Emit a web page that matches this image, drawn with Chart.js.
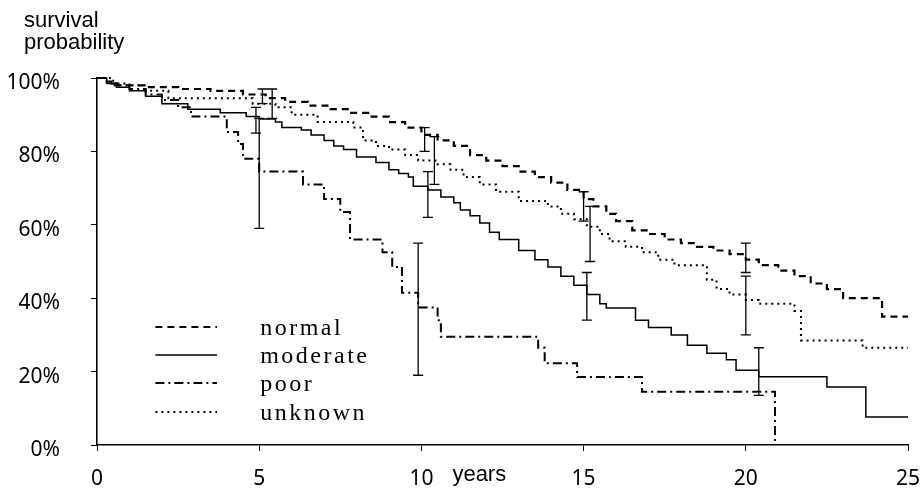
<!DOCTYPE html>
<html>
<head>
<meta charset="utf-8">
<script src="https://cdn.jsdelivr.net/npm/chart.js@4.4.1/dist/chart.umd.min.js"></script>
<style>
  html, body { margin: 0; padding: 0; background: #fff; }
  #wrap { width: 920px; height: 488px; position: relative; }
</style>
</head>
<body>
<div id="wrap"><canvas id="survivalChart"></canvas></div>
<script>
// Curvas de supervivencia (años, % tras cada escalón)
const normalYears = [0, 0.3, 0.6, 1.5, 2.5, 3.5, 4.5, 5.2, 5.8, 6.5, 7.2, 7.8, 8.4, 9, 9.5, 10, 10.5, 11, 11.5, 12, 12.5, 13, 13.5, 14, 14.5, 15, 15.3, 15.7, 16, 16.5, 17, 17.5, 18, 18.5, 19, 19.5, 20, 20.4, 21, 21.5, 22, 22.5, 23, 24.2, 25];
const normalSurv = [100, 99, 98, 97.5, 97, 96.5, 95.5, 94.5, 93.5, 92.5, 91.5, 90.5, 89.5, 88, 86.5, 84.5, 83, 81.5, 79, 77.5, 76, 74.5, 73, 71.5, 69.5, 67, 65, 63, 61, 58.5, 57.5, 56, 55, 54, 53, 52, 50.5, 49, 47.5, 46, 44, 42.5, 40, 35, 35];

const moderateYears = [0, 0.3, 0.6, 1, 1.5, 2, 2.8, 3.8, 4.6, 5, 5.5, 5.7, 6.3, 6.6, 7, 7.3, 7.6, 8, 8.6, 9, 9.3, 9.6, 9.75, 10.2, 10.6, 11, 11.2, 11.5, 11.8, 12.1, 12.4, 13, 13.5, 13.9, 14.3, 14.7, 15.1, 15.5, 15.7, 16.6, 17, 17.7, 18.2, 18.8, 19.4, 19.7, 20.4, 22.5, 23.7, 25];
const moderateSurv = [100, 98.5, 97.5, 96.5, 95, 93, 91.5, 90.5, 89.5, 88.8, 88, 86.5, 85.8, 84.5, 83, 81.5, 80.5, 78.5, 77, 75, 74, 73, 70.5, 69.5, 67.6, 66, 64, 62.5, 60.5, 58, 56, 53, 50.5, 48.5, 46, 43.5, 41, 38.5, 37.3, 34, 32, 30, 27.2, 25, 23.2, 20.4, 18.6, 15.8, 7.6, 7.6];

const poorYears = [0, 0.3, 1, 1.5, 2, 2.5, 2.9, 4, 4.35, 4.5, 5, 6.35, 7, 7.5, 7.8, 8.8, 9.1, 9.4, 9.9, 10.5, 10.6, 13.6, 13.8, 14.8, 16.8, 20.9];
const poorSurv = [100, 98.5, 97, 95.5, 94, 92, 89.5, 85.3, 82, 78, 74.5, 71, 67, 63.5, 56, 52.5, 48.5, 41.5, 37.5, 34, 29.5, 26.5, 22.3, 18.5, 14.5, 0];

const unknownYears = [0, 0.5, 1.5, 2.2, 4.8, 5.5, 6, 6.8, 7.9, 8.2, 8.6, 9, 9.5, 9.9, 10.5, 10.9, 11.3, 11.8, 12.3, 13, 13.9, 14.3, 14.7, 15.1, 15.5, 15.8, 16.3, 16.8, 17.3, 17.8, 18.8, 19.1, 19.5, 20, 20.4, 21.5, 21.7, 23.6, 25];
const unknownSurv = [100, 98, 96.5, 94.5, 93, 92, 90, 88, 86.5, 83, 81.5, 80.5, 79, 77.5, 76.5, 75, 73, 71, 69, 66.5, 65, 63, 61.5, 59.5, 57.5, 55.5, 54, 52.5, 50.5, 49, 45, 42.5, 41, 39.5, 38.5, 36.5, 28.5, 26.5, 26.5];

// Barras de error: [año, inferior, superior]
const normalBars = [[5.1, 93, 97], [10.1, 80, 86.5], [15.0, 61, 69], [20.0, 47, 55]];
const moderateBars = [[4.9, 85, 92], [10.2, 62, 74.5], [15.1, 34, 47], [20.4, 13.5, 26.5]];
const poorBars = [[5.0, 59, 89], [9.9, 19, 55]];
const unknownBars = [[5.4, 89, 97], [10.4, 71, 84], [15.2, 50, 65], [20.0, 30, 46]];

const yTicks = [0, 20, 40, 60, 80, 100];
const xTicks = [0, 5, 10, 15, 20, 25];

const seriesNames = ['normal', 'moderate', 'poor', 'unknown'];

function toPoints(xs, ys) {
    return xs.map((x, i) => ({ x: x, y: ys[i] }));
}

const tickFont = { family: '"Noto Sans", sans-serif', size: 21 };

// Dibuja barras de error, leyenda y rótulos
const extrasPlugin = {
    id: 'extras',
    afterDatasetsDraw(chart) {
        const ctx = chart.ctx;
        const xs = chart.scales.x;
        const ys = chart.scales.y;
        ctx.save();
        ctx.strokeStyle = '#000';
        ctx.lineWidth = 1.3;
        ctx.setLineDash([]);
        chart.data.datasets.forEach(ds => {
            (ds.errorBars || []).forEach(b => {
                const px = xs.getPixelForValue(b[0]);
                const lo = ys.getPixelForValue(b[1]);
                const hi = ys.getPixelForValue(b[2]);
                ctx.beginPath();
                ctx.moveTo(px, lo); ctx.lineTo(px, hi);
                ctx.moveTo(px - 5, lo); ctx.lineTo(px + 5, lo);
                ctx.moveTo(px - 5, hi); ctx.lineTo(px + 5, hi);
                ctx.stroke();
            });
        });
        ctx.restore();
    },
    afterDraw(chart) {
        const ctx = chart.ctx;
        const xs = chart.scales.x;
        ctx.save();
        // leyenda
        const lx0 = xs.getPixelForValue(1.8);
        const lx1 = xs.getPixelForValue(3.7);
        const tx = xs.getPixelForValue(5.03);
        const legendY = [320, 348, 376, 405];
        ctx.font = '24px "Liberation Serif", serif';
        if ('letterSpacing' in ctx) ctx.letterSpacing = '2.5px';
        ctx.textBaseline = 'alphabetic';
        ctx.fillStyle = '#000';
        chart.data.datasets.forEach((ds, i) => {
            const y = legendY[i] + 7;
            ctx.beginPath();
            ctx.setLineDash(ds.borderDash || []);
            ctx.lineWidth = ds.borderWidth;
            ctx.strokeStyle = '#000';
            ctx.moveTo(lx0, y);
            ctx.lineTo(lx1, y);
            ctx.stroke();
            ctx.fillText(ds.label, tx, y + 8);
        });
        ctx.setLineDash([]);
        if ('letterSpacing' in ctx) ctx.letterSpacing = '0px';
        // rótulos de ejes
        ctx.font = '22px "Liberation Sans", Arial, sans-serif';
        ctx.textAlign = 'left';
        ctx.fillText('survival', 24, 27);
        ctx.fillText('probability', 24, 49);
        ctx.fillText('years', xs.getPixelForValue(10) + 31, 481);
        ctx.restore();
    }
};

const commonLine = {
    borderColor: '#000',
    backgroundColor: '#000',
    pointRadius: 0,
    pointHoverRadius: 0,
    stepped: true,
    fill: false,
    clip: 6
};

const chart = new Chart(document.getElementById('survivalChart'), {
    type: 'line',
    data: {
        datasets: [
            Object.assign({}, commonLine, {
                label: seriesNames[0],
                data: toPoints(normalYears, normalSurv),
                borderWidth: 2.2,
                borderDash: [7, 5],
                errorBars: normalBars
            }),
            Object.assign({}, commonLine, {
                label: seriesNames[1],
                data: toPoints(moderateYears, moderateSurv),
                borderWidth: 1.5,
                borderDash: [],
                errorBars: moderateBars
            }),
            Object.assign({}, commonLine, {
                label: seriesNames[2],
                data: toPoints(poorYears, poorSurv),
                borderWidth: 2,
                borderDash: [9, 4, 2, 4],
                errorBars: poorBars
            }),
            Object.assign({}, commonLine, {
                label: seriesNames[3],
                data: toPoints(unknownYears, unknownSurv),
                borderWidth: 2,
                borderDash: [2, 4],
                errorBars: unknownBars
            })
        ]
    },
    options: {
        responsive: true,
        maintainAspectRatio: false,
        animation: false,
        layout: { autoPadding: false, padding: { left: 6, right: 12, top: 78, bottom: 0 } },
        plugins: {
            legend: { display: false },
            tooltip: { enabled: false },
            title: { display: false }
        },
        scales: {
            x: {
                type: 'linear',
                min: 0,
                max: 25,
                afterBuildTicks: axis => { axis.ticks = xTicks.map(v => ({ value: v })); },
                afterFit: axis => {
                    axis.height = 43;
                    axis.paddingLeft = 0;
                    axis.paddingRight = 0;
                },
                ticks: {
                    color: '#000',
                    font: tickFont,
                    padding: 15,
                    maxRotation: 0,
                    autoSkip: false
                },
                grid: { drawOnChartArea: false, color: '#000', tickLength: 6, lineWidth: 1 },
                border: { color: '#000', width: 1.6 }
            },
            y: {
                type: 'linear',
                min: 0,
                max: 100,
                afterBuildTicks: axis => { axis.ticks = yTicks.map(v => ({ value: v })); },
                afterFit: axis => {
                    axis.width = 91;
                    axis.paddingTop = 0;
                    axis.paddingBottom = 0;
                },
                ticks: {
                    color: '#000',
                    font: tickFont,
                    padding: 31,
                    labelOffset: 5,
                    callback: v => v + '%'
                },
                grid: { drawOnChartArea: false, color: '#000', tickLength: 6, lineWidth: 1 },
                border: { color: '#000', width: 1.6 }
            }
        }
    },
    plugins: [extrasPlugin]
});
</script>
</body>
</html>
